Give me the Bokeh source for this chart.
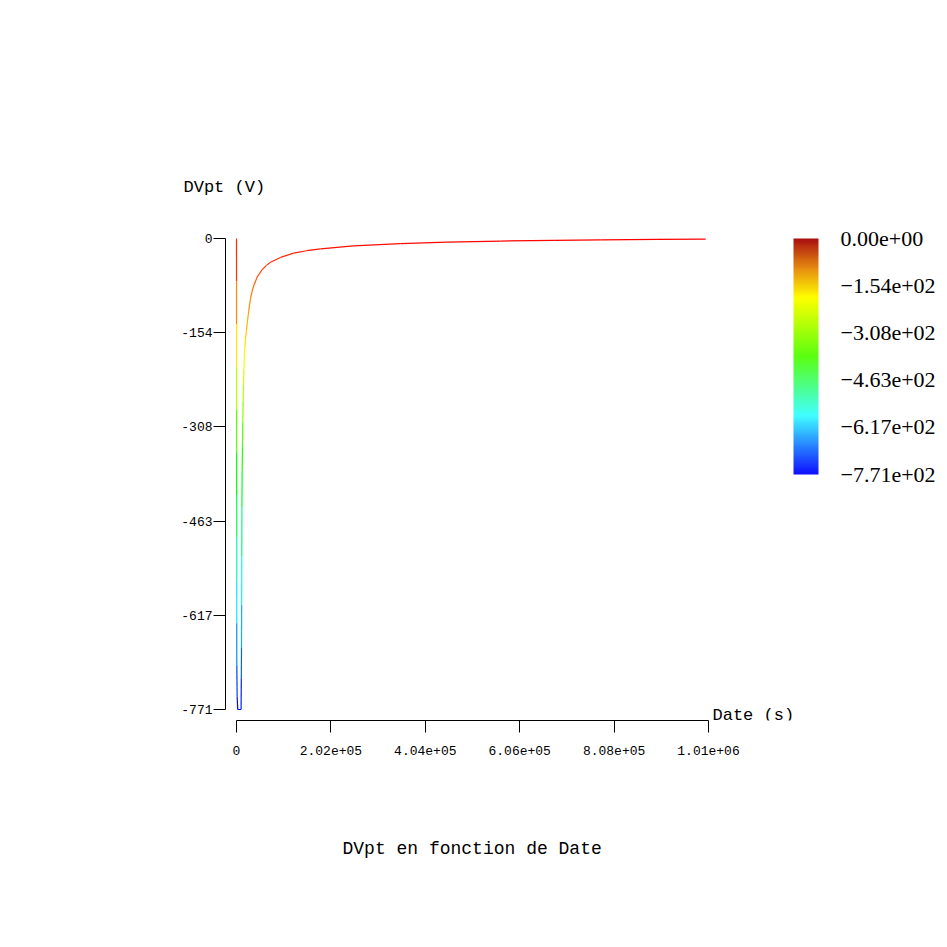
from bokeh.plotting import figure
from bokeh.models import (ColumnDataSource, LinearColorMapper, ColorBar, FixedTicker, Label,
                          Range1d, Title, AllLabels)
from bokeh.transform import linear_cmap
from bokeh.embed import file_html
from bokeh.resources import INLINE

# ---- data ----
t_s = [0, 60, 130, 200, 260, 330, 400, 460, 530, 600, 680, 1400, 2600,
       9800, 10300, 10700, 11000, 11300, 11600, 12100, 12800, 13500, 14200,
       15000, 15800, 16800, 17800, 19500, 21400, 23800, 26300, 30000, 33500,
       37000, 44300, 55000, 64000, 72800, 94200, 122000, 150000, 180000,
       250000, 351000, 450000, 565000, 680000, 779000, 900000, 1004000]
dvpt_v = [0, -70, -140, -210, -280, -350, -420, -490, -560, -630, -700, -750, -771,
          -771, -720, -669, -600, -520, -440, -380, -340, -300, -265,
          -240, -215, -195, -178, -163, -150, -133, -118, -98, -86,
          -77, -63, -51, -44, -39, -31, -24, -20, -17,
          -12, -8.5, -6, -4.2, -3, -2.2, -1.5, -1.0]

x_ticks = [0, 2.02e5, 4.04e5, 6.06e5, 8.08e5, 1.01e6]
x_tick_labels = ["0", "2.02e+05", "4.04e+05", "6.06e+05", "8.08e+05", "1.01e+06"]
y_ticks = [0, -154.2, -308.4, -462.6, -616.8, -771.0]
y_tick_labels = ["0", "-154", "-308", "-463", "-617", "-771"]
cb_ticks = [0, -154.2, -308.4, -462.6, -616.8, -771.0]
cb_tick_labels = ["0.00e+00", "\u22121.54e+02", "\u22123.08e+02", "\u22124.63e+02",
                  "\u22126.17e+02", "\u22127.71e+02"]
v_min, v_max = -771.0, 0.0
x_min, x_max = 0.0, 1.01e6


def ramp(anchors, n=256):
    out = []
    for i in range(n):
        f = i / (n - 1)
        c = anchors[-1][1]
        for (f0, c0), (f1, c1) in zip(anchors[:-1], anchors[1:]):
            if f0 <= f <= f1:
                w = (f - f0) / (f1 - f0)
                c = [round(a + (b - a) * w) for a, b in zip(c0, c1)]
                break
        out.append("#%02x%02x%02x" % tuple(c))
    return out


line_pal = ramp([(0.0, (0, 0, 255)), (0.25, (0, 255, 255)), (0.5, (0, 255, 0)),
                 (0.75, (255, 255, 0)), (1.0, (255, 0, 0))])
bar_pal = ramp([(0.0, (16, 16, 255)), (0.25, (64, 255, 255)), (0.5, (90, 255, 16)),
                (0.75, (255, 255, 0)), (0.87, (232, 144, 16)), (1.0, (170, 16, 16))])

# segments
x0 = t_s[:-1]
x1 = t_s[1:]
y0 = dvpt_v[:-1]
y1 = dvpt_v[1:]
ym = [(a + b) / 2 for a, b in zip(y0, y1)]
src = ColumnDataSource(dict(x0=x0, x1=x1, y0=y0, y1=y1, ym=ym))

# pixel scales (reference: 0..1.01e6 over 472 px, 0..-771 over 471 px)
sx = (x_max - x_min) / 472.0
sy = (v_max - v_min) / 471.0

p = figure(width=939, height=939, output_backend="svg", toolbar_location=None,
           x_range=Range1d(-11 * sx, 703 * sx), y_range=Range1d(-482 * sy, 2 * sy),
           min_border_left=225, min_border_top=236, min_border_right=0,
           min_border_bottom=219)
p.outline_line_color = None
p.grid.visible = False
p.background_fill_color = "white"
p.border_fill_color = "white"

p.segment('x0', 'y0', 'x1', 'y1', source=src, line_width=1.2,
          line_color=linear_cmap('ym', line_pal, v_min, v_max))

for ax, ticks, labels in ((p.xaxis, x_ticks, x_tick_labels), (p.yaxis, y_ticks, y_tick_labels)):
    ax.ticker = FixedTicker(ticks=ticks)
    ax.major_label_overrides = dict(zip(ticks, labels))
    ax.major_tick_out = 12
    ax.major_tick_in = 0
    ax.minor_tick_line_color = None
    ax.axis_line_color = "black"
    ax.major_tick_line_color = "black"
    ax.major_label_text_font = "Liberation Mono"
    ax.major_label_text_font_size = "13px"
    ax.major_label_text_color = "black"
p.xaxis.bounds = (x_min, x_max)
p.yaxis.bounds = (v_min, v_max)
p.xaxis.major_label_standoff = 13
p.yaxis.major_label_standoff = 1

mapper = LinearColorMapper(palette=bar_pal, low=v_min, high=v_max)
cb = ColorBar(color_mapper=mapper, ticker=FixedTicker(ticks=cb_ticks),
              major_label_overrides=dict(zip(cb_ticks, cb_tick_labels)),
              major_label_policy=AllLabels(),
              width=25, height=236, location=(568, 246), margin=0, padding=0,
              label_standoff=22, major_tick_line_color=None, major_tick_out=0,
              major_tick_in=0, bar_line_color=None, border_line_color=None,
              background_fill_color=None,
              major_label_text_font="Liberation Serif",
              major_label_text_font_size="22px",
              major_label_text_color="black")
p.add_layout(cb)

p.add_layout(Label(x=(712 - 236) * sx, y=-(715 - 238) * sy, text="Date (s)",
                   text_font="Liberation Mono", text_color="black",
                   text_font_size="17px", text_baseline="middle", text_align="left"))

p.add_layout(Title(text="DVpt (V)", align="left", offset=-42, standoff=80,
                   text_font="Liberation Mono", text_font_style="normal",
                   text_font_size="17px", text_color="black"), "above")

p.add_layout(Title(text="DVpt en fonction de Date", align="left", offset=117, standoff=159,
                   text_font="Liberation Mono", text_font_style="normal",
                   text_font_size="18px", text_color="black"), "below")

open("out.html", "w").write(file_html(p, INLINE))
